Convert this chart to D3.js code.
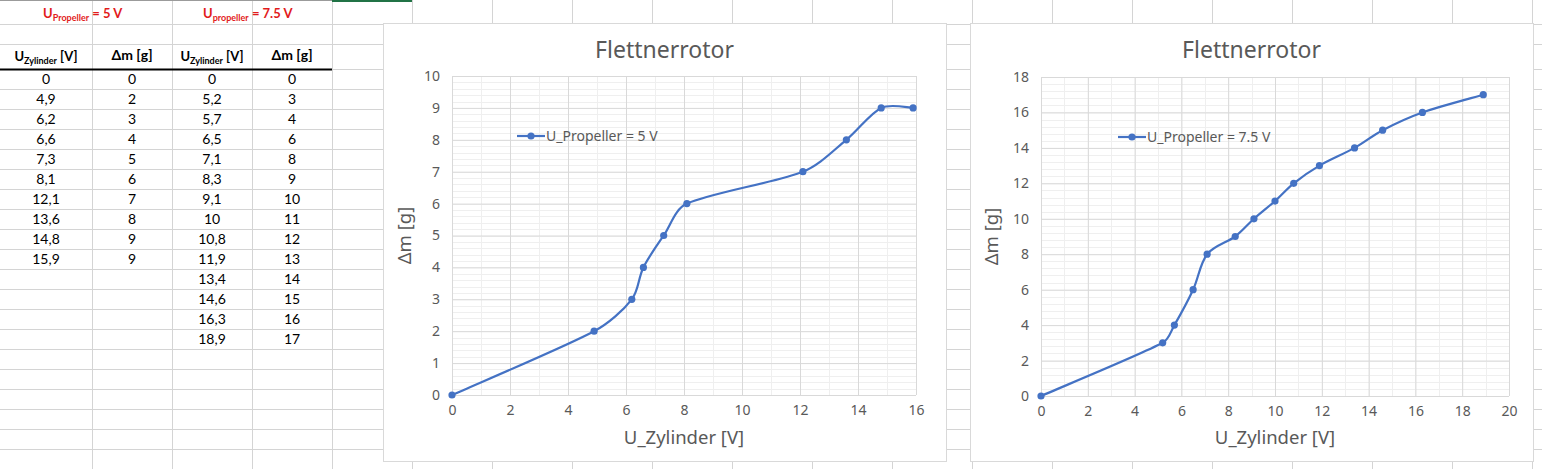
<!DOCTYPE html>
<html>
<head>
<meta charset="utf-8">
<script src="https://cdn.jsdelivr.net/npm/d3@7"></script>
<style>
  body { margin: 0; background: #fff; }
  svg { display: block; }
  .cell { font-family: Lato, "Noto Sans", sans-serif; font-size: 14px; fill: #000; }
  .chart text { font-family: "Noto Sans", "Open Sans", sans-serif; fill: #595959; }
</style>
</head>
<body>
<div id="graph"></div>
<script>
// measured values, as in the sheet
var uZylinder5 = [0, 4.9, 6.2, 6.6, 7.3, 8.1, 12.1, 13.6, 14.8, 15.9];
var deltaM5 = [0, 2, 3, 4, 5, 6, 7, 8, 9, 9];
var uZylinder75 = [0, 5.2, 5.7, 6.5, 7.1, 8.3, 9.1, 10, 10.8, 11.9, 13.4, 14.6, 16.3, 18.9];
var deltaM75 = [0, 3, 4, 6, 8, 9, 10, 11, 12, 13, 14, 15, 16, 17];

var xTicks5 = [0, 2, 4, 6, 8, 10, 12, 14, 16];
var yTicks5 = [0, 1, 2, 3, 4, 5, 6, 7, 8, 9, 10];
var xTicks75 = [0, 2, 4, 6, 8, 10, 12, 14, 16, 18, 20];
var yTicks75 = [0, 2, 4, 6, 8, 10, 12, 14, 16, 18];

var chartTitle = "Flettnerrotor";
var xTitle = "U_Zylinder [V]";
var yTitle = "\u0394m [g]";
var legend5 = "U_Propeller = 5 V";
var legend75 = "U_Propeller = 7.5 V";

(function() {
	var W = 1542, H = 469;
	var blue = "#4472c4";

	var svg = d3.select("#graph").append("svg")
		.attr("width", W)
		.attr("height", H);

	// spreadsheet grid behind everything
	var sheet = svg.append("g");
	var colX = d3.range(92, W, 80);
	var rowY = [24, 44, 69].concat(d3.range(89, H + 1, 20));

	sheet.selectAll("line.col").data(colX).enter().append("line")
		.attr("x1", function(d){ return d + 0.5; })
		.attr("x2", function(d){ return d + 0.5; })
		.attr("y1", 0).attr("y2", H)
		.attr("stroke", "#d4d4d4");

	sheet.selectAll("line.row").data(rowY).enter().append("line")
		.attr("x1", 0).attr("x2", W)
		.attr("y1", function(d){ return d + 0.5; })
		.attr("y2", function(d){ return d + 0.5; })
		.attr("stroke", "#d4d4d4");

	sheet.append("line").attr("x1", 0).attr("x2", 332).attr("y1", 0.5).attr("y2", 0.5)
		.attr("stroke", "#9b9b9b");
	sheet.append("line").attr("x1", 332).attr("x2", 412).attr("y1", 1).attr("y2", 1)
		.attr("stroke", "#217346").attr("stroke-width", 2);
	sheet.append("line").attr("x1", 0).attr("x2", 332).attr("y1", 69.5).attr("y2", 69.5)
		.attr("stroke", "#000").attr("stroke-width", 2);

	// red headings with subscript
	var heads = [
		{ x: 43, sub: "Propeller", rest: " = 5 V" },
		{ x: 203, sub: "propeller", rest: " = 7.5 V" }
	];
	heads.forEach(function(h){
		var t = sheet.append("text").attr("class", "cell")
			.attr("x", h.x).attr("y", 18)
			.style("font-size", "13px")
			.style("font-weight", "bold").style("fill", "#e21b1b");
		t.append("tspan").text("U");
		t.append("tspan").attr("dy", 3).style("font-size", "9px").text(h.sub);
		t.append("tspan").attr("dy", -3).text(h.rest);
	});

	// column headers
	[46, 212].forEach(function(cx){
		var t = sheet.append("text").attr("class", "cell")
			.attr("x", cx).attr("y", 61).attr("text-anchor", "middle")
			.style("font-size", "13px")
			.style("font-weight", "bold");
		t.append("tspan").text("U");
		t.append("tspan").attr("dy", 3).style("font-size", "9px").text("Zylinder");
		t.append("tspan").attr("dy", -3).text(" [V]");
	});
	[132, 292].forEach(function(cx){
		sheet.append("text").attr("class", "cell")
			.attr("x", cx).attr("y", 60).attr("text-anchor", "middle")
			.style("font-weight", "bold").text(yTitle);
	});

	var fmt = function(v){ return String(v).replace(".", ","); };
	var columns = [
		{ cx: 46, vals: uZylinder5 },
		{ cx: 132, vals: deltaM5 },
		{ cx: 212, vals: uZylinder75 },
		{ cx: 292, vals: deltaM75 }
	];
	columns.forEach(function(c){
		sheet.selectAll(null).data(c.vals).enter().append("text")
			.attr("class", "cell")
			.attr("text-anchor", "middle")
			.attr("x", c.cx)
			.attr("y", function(d, i){ return 84 + i * 20; })
			.text(fmt);
	});

	// _smoothPath: Excel-style smoothing, bezier with 1/6 tangents,
	// each handle clamped to a third of its segment so nothing loops
	var _smoothPath = function(p){
		var path = d3.path();
		var n = p.length;
		var tan = p.map(function(d, i){
			var a = p[Math.max(i - 1, 0)], b = p[Math.min(i + 1, n - 1)];
			return [(b[0] - a[0]) / 6, (b[1] - a[1]) / 6];
		});
		var clamp = function(t, len){
			var l = Math.hypot(t[0], t[1]), m = len / 3;
			return l > m ? [t[0] * m / l, t[1] * m / l] : t;
		};
		path.moveTo(p[0][0], p[0][1]);
		for (var i = 0; i < n - 1; i++) {
			var len = Math.hypot(p[i + 1][0] - p[i][0], p[i + 1][1] - p[i][1]);
			var t1 = clamp(tan[i], len), t2 = clamp(tan[i + 1], len);
			path.bezierCurveTo(p[i][0] + t1[0], p[i][1] + t1[1],
				p[i + 1][0] - t2[0], p[i + 1][1] - t2[1],
				p[i + 1][0], p[i + 1][1]);
		}
		return path.toString();
	};

	// _drawChart builds one Excel-like scatter chart with smoothed line
	var _drawChart = function(o){
		var g = svg.append("g").attr("class", "chart");

		g.append("rect")
			.attr("x", o.box[0] + 0.5).attr("y", o.box[1] + 0.5)
			.attr("width", o.box[2] - o.box[0]).attr("height", o.box[3] - o.box[1])
			.attr("fill", "#fff").attr("stroke", "#d9d9d9");

		var x = d3.scaleLinear().domain(o.xDomain).range([o.plot[0], o.plot[2]]);
		var y = d3.scaleLinear().domain(o.yDomain).range([o.plot[3], o.plot[1]]);

		// minor gridlines
		var xMinor = d3.range(o.xDomain[0], o.xDomain[1] + 1e-9, o.xMinor);
		var yMinor = d3.range(o.yDomain[0], o.yDomain[1] + 1e-9, o.yMinor);
		g.selectAll(null).data(xMinor).enter().append("line")
			.attr("x1", function(d){ return Math.round(x(d)) + 0.5; })
			.attr("x2", function(d){ return Math.round(x(d)) + 0.5; })
			.attr("y1", o.plot[1]).attr("y2", o.plot[3])
			.attr("stroke", "#efefef");
		g.selectAll(null).data(yMinor).enter().append("line")
			.attr("y1", function(d){ return Math.round(y(d)) + 0.5; })
			.attr("y2", function(d){ return Math.round(y(d)) + 0.5; })
			.attr("x1", o.plot[0]).attr("x2", o.plot[2])
			.attr("stroke", "#efefef");

		// major gridlines via axes
		var xAxis = d3.axisBottom(x).tickValues(o.xTicks)
			.tickSize(-(o.plot[3] - o.plot[1])).tickPadding(10).tickFormat(d3.format("d"));
		var yAxis = d3.axisLeft(y).tickValues(o.yTicks)
			.tickSize(-(o.plot[2] - o.plot[0])).tickPadding(12).tickFormat(d3.format("d"));

		var gx = g.append("g")
			.attr("transform", "translate(0," + o.plot[3] + ")")
			.call(xAxis);
		var gy = g.append("g")
			.attr("transform", "translate(" + o.plot[0] + ",0)")
			.call(yAxis);
		[gx, gy].forEach(function(a){
			a.select(".domain").remove();
			a.selectAll("line").attr("stroke", "#d9d9d9");
			a.selectAll("text").style("font-size", "14px").attr("fill", "#595959");
		});

		// smoothed line with markers
		var pts = o.xs.map(function(v, i){ return [v, o.ys[i]]; });
		var px = pts.map(function(d){ return [x(d[0]), y(d[1])]; });
		g.append("path")
			.attr("d", _smoothPath(px))
			.attr("fill", "none").attr("stroke", blue)
			.attr("stroke-width", 2.2).attr("stroke-linecap", "round");
		g.selectAll("circle").data(pts).enter().append("circle")
			.attr("cx", function(d){ return x(d[0]); })
			.attr("cy", function(d){ return y(d[1]); })
			.attr("r", 3.6).attr("fill", blue);

		// texts
		var cx = (o.box[0] + o.box[2]) / 2;
		g.append("text").attr("x", cx).attr("y", 58)
			.attr("text-anchor", "middle").style("font-size", "23px").text(chartTitle);
		g.append("text").attr("x", (o.plot[0] + o.plot[2]) / 2).attr("y", 444)
			.attr("text-anchor", "middle").style("font-size", "18.5px").text(xTitle);
		g.append("text")
			.attr("transform", "translate(" + (o.box[0] + 28) + "," + ((o.plot[1] + o.plot[3]) / 2) + ") rotate(-90)")
			.attr("text-anchor", "middle").style("font-size", "18.5px").text(yTitle);

		// legend
		var lg = g.append("g").attr("transform", "translate(" + o.legend[0] + "," + o.legend[1] + ")");
		lg.append("line").attr("x1", 0).attr("x2", 28).attr("y1", 0).attr("y2", 0)
			.attr("stroke", blue).attr("stroke-width", 2.2);
		lg.append("circle").attr("cx", 14).attr("cy", 0).attr("r", 3.6).attr("fill", blue);
		lg.append("text").attr("x", 29).attr("y", 5).style("font-size", "14px").text(o.label);
	};

	_drawChart({
		box: [383, 23, 946, 461],
		plot: [452, 76, 916, 395],
		xDomain: [0, 16], yDomain: [0, 10],
		xTicks: xTicks5, yTicks: yTicks5,
		xMinor: 1, yMinor: 0.2,
		xs: uZylinder5, ys: deltaM5,
		legend: [517, 136], label: legend5
	});

	_drawChart({
		box: [970, 23, 1533, 461],
		plot: [1041, 77, 1509, 396],
		xDomain: [0, 20], yDomain: [0, 18],
		xTicks: xTicks75, yTicks: yTicks75,
		xMinor: 1, yMinor: 0.4,
		xs: uZylinder75, ys: deltaM75,
		legend: [1118, 137], label: legend75
	});
})();
</script>
</body>
</html>
